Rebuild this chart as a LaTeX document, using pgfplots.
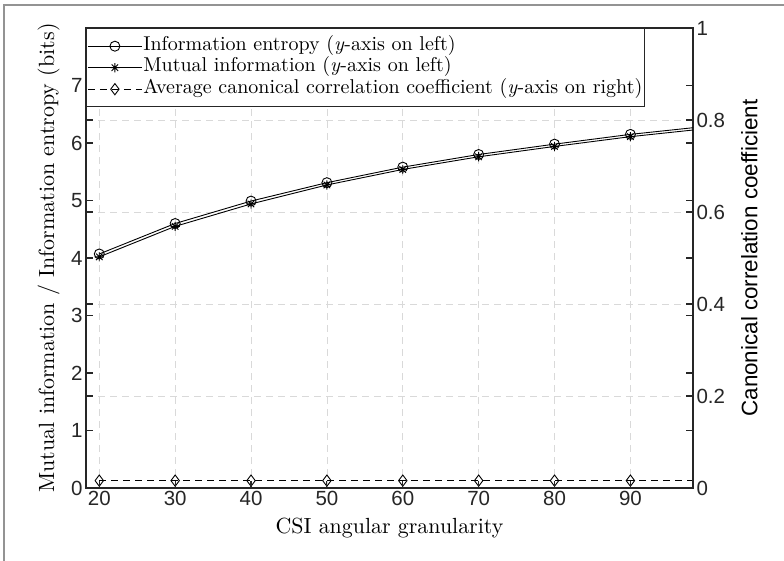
\documentclass[border=0pt]{standalone}
\usepackage{fontspec}
\setmainfont{lmroman10-regular.otf}[ItalicFont=lmroman10-italic.otf]
\usepackage{pgfplots}
\pgfplotsset{compat=1.18}
\newfontfamily\hel{Liberation Sans}
\definecolor{axc}{gray}{0.15}
\definecolor{gridc}{gray}{0.85}
\pgfdeclareplotmark{mstar}{%
 \pgfpathmoveto{\pgfpoint{0pt}{\pgfplotmarksize}}\pgfpathlineto{\pgfpoint{0pt}{-\pgfplotmarksize}}%
 \pgfpathmoveto{\pgfpoint{\pgfplotmarksize}{0pt}}\pgfpathlineto{\pgfpoint{-\pgfplotmarksize}{0pt}}%
 \pgfpathmoveto{\pgfpoint{.7071\pgfplotmarksize}{.7071\pgfplotmarksize}}\pgfpathlineto{\pgfpoint{-.7071\pgfplotmarksize}{-.7071\pgfplotmarksize}}%
 \pgfpathmoveto{\pgfpoint{-.7071\pgfplotmarksize}{.7071\pgfplotmarksize}}\pgfpathlineto{\pgfpoint{.7071\pgfplotmarksize}{-.7071\pgfplotmarksize}}%
 \pgfusepathqstroke}
\pgfplotstableread{
x H MI C
20 4.07 4.02 0.016
30 4.60 4.55 0.016
40 4.99 4.94 0.016
50 5.31 5.27 0.016
60 5.58 5.54 0.016
70 5.80 5.76 0.016
80 5.98 5.94 0.016
90 6.15 6.11 0.016
100 6.29 6.25 0.016
}\data
\pgfplotsset{
 common/.style={at={(86pt,73pt)}, anchor=south west, width=607pt, height=460pt, scale only axis,
  xmin=18.25, xmax=98.25, xtick={20,30,...,90},
  axis line style={axc, line width=1.2pt}, major tick style={axc, line width=1.1pt}, major tick length=7pt,
  ticklabel style={font=\hel\fontsize{20.5}{22}\selectfont, text=axc},
  /pgf/number format/assume math mode=true},
 mkC/.style={black, line width=0.9pt, mark=o, mark size=5pt},
 mkM/.style={black, line width=0.9pt, mark=mstar, mark size=4.6pt},
 mkD/.style={black, line width=0.9pt, dash pattern=on 7pt off 5pt, mark=diamond, mark size=5.6pt, mark options={solid}},
}
\begin{document}
\begin{tikzpicture}
\path[use as bounding box] (0,0) rectangle (784pt,561pt);
\fill[white] (0,0) rectangle (784pt,561pt);
\draw[gray!85, line width=1.4pt] (4pt,0pt) -- (4pt,556pt) -- (790pt,556pt);
% right axis
\begin{axis}[common, ymin=0, ymax=1, ytick={0,0.2,0.4,0.6,0.8,1},
 xticklabels={}, xtick pos=both, ytick pos=both, yticklabel pos=right,
 xmajorgrids, ymajorgrids, grid style={gridc, dash pattern=on 7pt off 5pt, line width=0.8pt},
 ylabel={Canonical correlation coefficient},
 ylabel style={font=\hel\fontsize{22.4}{24}\selectfont, text=black, at={(axis description cs:1.079,0.5)}, anchor=north, inner sep=0pt}]
\addplot[black, line width=0.9pt, dash pattern=on 7pt off 5pt, forget plot] table[x=x, y=C] {\data};
\addplot[only marks, black, line width=0.9pt, mark=diamond, mark size=5.6pt, forget plot] table[x=x, y=C] {\data};
\end{axis}
% left axis
\begin{axis}[common, ymin=0, ymax=8, ytick={0,...,7},
 xtick pos=both, ytick pos=both, yticklabel pos=left, xticklabel pos=left,
 xlabel={CSI angular granularity},
 xlabel style={font=\fontsize{21.9}{24}\selectfont, at={(axis description cs:0.5,-0.066)}, anchor=north, inner sep=0pt},
 ylabel={Mutual information / Information entropy (bits)},
 ylabel style={font=\fontsize{22}{24}\selectfont, at={(axis description cs:-0.043,0.5)}, anchor=south, inner sep=0pt},
 legend cell align=left,
 legend style={at={(0,1)}, anchor=north west, draw=axc, line width=0.9pt, fill=white,
   font=\fontsize{20}{22}\selectfont, inner xsep=1pt, inner ysep=7pt, row sep=0pt,
   nodes={inner sep=1pt, text height=14pt, text depth=5.5pt}},
 legend image code/.code={\draw[mark repeat=2,mark phase=2,#1] plot coordinates {(0pt,0pt) (27pt,0pt) (54pt,0pt)};}]
\addplot[black, line width=0.9pt, forget plot] table[x=x, y=H] {\data};
\addplot[only marks, black, line width=0.9pt, mark=o, mark size=5pt, forget plot] table[x=x, y=H] {\data};
\addplot[black, line width=0.9pt, forget plot] table[x=x, y=MI] {\data};
\addplot[only marks, black, line width=0.9pt, mark=mstar, mark size=4.6pt, forget plot] table[x=x, y=MI] {\data};
\addlegendimage{mkC}\addlegendentry{Information entropy (\textit{y}-axis on left)}
\addlegendimage{mkM}\addlegendentry{Mutual information (\textit{y}-axis on left)}
\addlegendimage{mkD}\addlegendentry{Average canonical correlation coefficient (\textit{y}-axis on right)}
\end{axis}
\end{tikzpicture}
\end{document}
